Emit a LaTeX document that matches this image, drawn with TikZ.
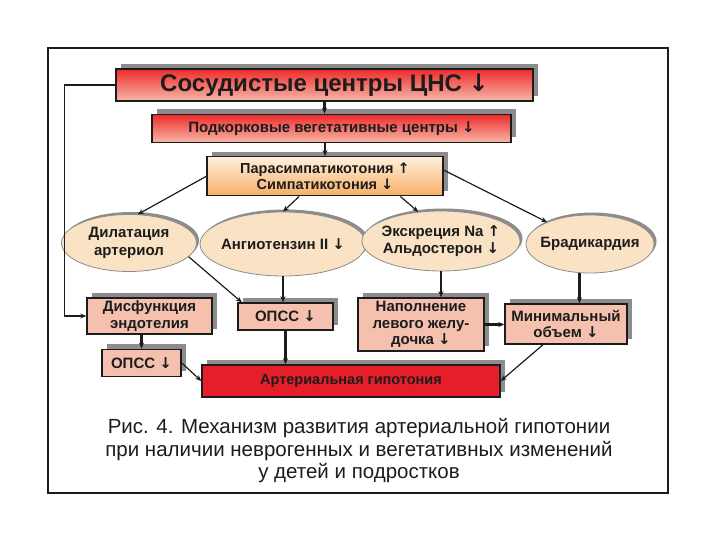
\documentclass[tikz,border=0pt]{standalone}
\usepackage{fontspec}
\setmainfont{Liberation Sans}
\newfontfamily\arrowfont{DejaVu Sans}
\newcommand{\arrdown}{{\arrowfont\bfseries ↓}}
\newcommand{\arrup}{{\arrowfont\bfseries ↑}}
\usepackage{xcolor}
\definecolor{TopRed}{HTML}{EE2B2B}
\definecolor{PaleRed}{HTML}{F7B7A8}
\definecolor{PaleOrange}{HTML}{FFF0DC}
\definecolor{DeepOrange}{HTML}{F7AE66}
\definecolor{Peach}{HTML}{FAE2C4}
\definecolor{Salmon}{HTML}{F5C0AE}
\definecolor{AlarmRed}{HTML}{E61E2A}
\definecolor{ShadowGrey}{HTML}{8C8C8C}
\definecolor{InkBlack}{HTML}{1C1C1C}
\usepackage{tikz}
\usetikzlibrary{shapes.geometric, arrows.meta, positioning, shadows, calc}
\tikzstyle{centre} = [rectangle, draw=InkBlack, line width=1.4pt, top color=TopRed, bottom color=PaleRed, text=InkBlack, align=center, inner sep=0pt, drop shadow={shadow xshift=5pt, shadow yshift=5pt, fill=ShadowGrey, opacity=1}]
\tikzstyle{effect} = [ellipse, draw=ShadowGrey, line width=0.8pt, fill=Peach, text=InkBlack, align=center, inner xsep=-10pt, inner ysep=-4pt, font=\fontsize{15}{17.5}\selectfont\bfseries, drop shadow={shadow xshift=2.5pt, shadow yshift=2.5pt, fill=ShadowGrey, opacity=1}]
\tikzstyle{block} = [rectangle, draw=InkBlack, line width=1.4pt, fill=Salmon, text=InkBlack, align=center, inner sep=0pt, font=\fontsize{15}{16.5}\selectfont\bfseries, drop shadow={shadow xshift=5pt, shadow yshift=5pt, fill=ShadowGrey, opacity=1}]
\tikzstyle{arrow} = [-{Stealth[length=6pt,width=5pt]}, line width=1.2pt, color=InkBlack]
\tikzstyle{thickarrow} = [arrow, line width=2.2pt]

\begin{document}
\begin{tikzpicture}[x=1pt, y=-1pt]
        \useasboundingbox (0,0) rectangle (720,540);
        % Frame
        \node [draw=InkBlack, line width=1.3pt, minimum width=620pt, minimum height=445pt, inner sep=0pt] (frame) at (358,270.5) {};

        % Centres
        \node [centre, minimum width=417pt, minimum height=32pt, font=\fontsize{24}{28}\selectfont\bfseries] (cns) at (324.5,85) {Сосудистые центры ЦНС \arrdown};
        \node [centre, minimum width=359pt, minimum height=28pt, font=\fontsize{15}{18}\selectfont\bfseries, below=12pt of cns, xshift=7pt] (subc) {Подкорковые вегетативные центры \arrdown};
        \node [centre, top color=PaleOrange, bottom color=DeepOrange, minimum width=236pt, minimum height=39pt, font=\fontsize{14.5}{16.5}\selectfont\bfseries, below=13pt of subc, xshift=-6.5pt] (para) {Парасимпатикотония \arrup\\ Симпатикотония \arrdown};

        % Effects
        \node [effect, minimum width=135pt, minimum height=57pt] (dil) at (129,243) {Дилатация\\ артериол};
        \node [effect, minimum width=166pt, minimum height=64pt] (ang) at (283,244) {Ангиотензин II \arrdown};
        \node [effect, minimum width=158pt, minimum height=60pt] (exc) at (441,241) {Экскреция Na \arrup\\ Альдостерон \arrdown};
        \node [effect, minimum width=128pt, minimum height=58pt] (brad) at (590,244) {Брадикардия};

        % Consequences
        \node [block, minimum width=125pt, minimum height=36pt] (dys) at (149.5,316) {Дисфункция\\ эндотелия};
        \node [block, minimum width=95pt, minimum height=27pt] (opss) at (285.5,316.5) {ОПСС \arrdown};
        \node [block, minimum width=126pt, minimum height=53pt] (lv) at (421,324.5) {Наполнение\\ левого желу-\\ дочка \arrdown};
        \node [block, minimum width=122pt, minimum height=40pt] (minv) at (566,324) {Минимальный\\ объем \arrdown};
        \node [block, minimum width=79pt, minimum height=27pt, below=14pt of dys, xshift=-8pt] (opssb) {ОПСС \arrdown};
        \node [block, fill=AlarmRed, minimum width=298pt, minimum height=32pt, font=\fontsize{14.5}{16.5}\selectfont\bfseries] (hyp) at (351,381) {Артериальная гипотония};

        % Caption
        \node [align=center, text=InkBlack, font=\fontsize{20.5}{22.5}\selectfont] (caption) at (359,451) {Рис. 4. Механизм развития артериальной гипотонии\\ при наличии неврогенных и вегетативных изменений\\ у детей и подростков};

        % Top chain
        \draw [thickarrow] (cns.south) -- (cns.south |- subc.north);
        \draw [thickarrow] (para.north |- subc.south) -- (para.north);
        \draw [arrow] (cns.west) -- ++(-51,0) |- (dys.west);

        % Fan out
        \draw [arrow] (para.west) -- (dil.73);
        \draw [arrow] (para.218) -- (ang.north);
        \draw [arrow] (para.345) -- (exc.128);
        \draw [arrow] (para.3) -- (brad.153);

        % Effects to consequences
        \draw [arrow] (dil.347) -- (opss.162);
        \draw [thickarrow] (ang.south) -- (ang.south |- opss.north);
        \draw [thickarrow] (exc.south) -- (exc.south |- lv.north);
        \draw [thickarrow] (brad.250) -- (brad.250 |- minv.north);
        \draw [thickarrow] (lv.east) -- (lv.east -| minv.west);
        \draw [thickarrow] (opssb.north |- dys.south) -- (opssb.north);

        % Hypotension
        \draw [arrow] (opssb.east) -- (hyp.west);
        \draw [thickarrow] (opss.south) -- (opss.south |- hyp.north);
        \draw [arrow] (minv.222) -- (hyp.east);
    \end{tikzpicture}
\end{document}
